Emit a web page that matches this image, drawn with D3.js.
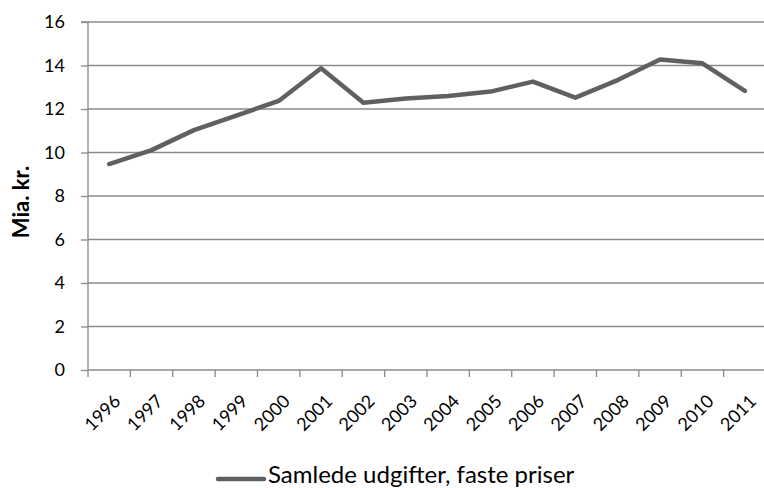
<!DOCTYPE html>
<html><head><meta charset="utf-8">
<script src="https://cdn.jsdelivr.net/npm/d3@7/dist/d3.min.js"></script>
<style>body{margin:0;background:#fff}svg{display:block}text{font-family:Lato,"Open Sans",sans-serif;fill:#000}</style>
</head><body><svg id="c" width="764" height="488"></svg>
<script>
const years = ["1996","1997","1998","1999","2000","2001","2002","2003","2004","2005","2006","2007","2008","2009","2010","2011"];
const values = [9.47,10.11,11.03,11.7,12.37,13.87,12.29,12.48,12.6,12.8,13.26,12.52,13.33,14.28,14.1,12.83];
const yTicks = [0,2,4,6,8,10,12,14,16];
const seriesName = "Samlede udgifter, faste priser";
const yLabel = "Mia. kr.";

const svg = d3.select("#c");
const L = 88, R = 766, T = 22, B = 370;
const x = d3.scaleBand().domain(years).range([L, R]);
const y = d3.scaleLinear().domain([0,16]).range([B, T]);
const FONT = "Lato, 'Open Sans', sans-serif";

// gridlines
svg.append("g").selectAll("line").data(yTicks.filter(d=>d>0)).join("line")
  .attr("x1", L).attr("x2", R).attr("y1", d=>y(d)).attr("y2", d=>y(d))
  .attr("stroke", "#8a8a8a").attr("stroke-width", 1.3);

// y axis
const ya = svg.append("g").attr("transform", `translate(${L},0)`)
  .call(d3.axisLeft(y).tickValues(yTicks).tickSize(7).tickPadding(16).tickFormat(d3.format("d")));
ya.select(".domain").attr("stroke", "#8a8a8a").attr("stroke-width", 1.3).attr("d", `M-7,${T}H0V${B}`);
ya.selectAll(".tick line").attr("stroke", "#8a8a8a").attr("stroke-width", 1.3);
ya.selectAll(".tick text").attr("font-size", 18).attr("font-family", FONT).attr("fill","#000");

// x axis
const xa = svg.append("g").attr("transform", `translate(0,${B})`)
  .call(d3.axisBottom(x).tickSize(0).tickFormat(""));
xa.select(".domain").attr("stroke", "#8a8a8a").attr("stroke-width", 1.3).attr("d", `M${L},0H${R}`);
const bounds = [...years.map(d=>x(d)), R];
xa.selectAll(".bt").data(bounds).join("line").attr("class","bt")
  .attr("x1", d=>d).attr("x2", d=>d).attr("y1", 0).attr("y2", 7)
  .attr("stroke", "#8a8a8a").attr("stroke-width", 1.3);
svg.append("g").selectAll("text").data(years).join("text")
  .attr("transform", d=>`translate(${x(d)+x.bandwidth()/2+8},${B+28}) rotate(-45)`)
  .attr("text-anchor","end").attr("dy","0.35em").attr("font-size", 18).text(d=>d);

// line
const line = d3.line().x((d,i)=>x(years[i])+x.bandwidth()/2).y(d=>y(d));
svg.append("path").datum(values).attr("d", line).attr("fill","none")
  .attr("stroke","#606060").attr("stroke-width",4.5).attr("stroke-linejoin","round").attr("stroke-linecap","round");

// y label
svg.append("text").attr("transform", `translate(21,202) rotate(-90)`)
  .attr("text-anchor","middle").attr("dy","0.35em").attr("font-size",22).attr("font-weight","bold").text(yLabel);

// legend
svg.append("line").attr("x1",218).attr("x2",264).attr("y1",479).attr("y2",479)
  .attr("stroke","#606060").attr("stroke-width",4.5).attr("stroke-linecap","round");
svg.append("text").attr("x",268).attr("y",483).attr("font-size",24).text(seriesName);
</script></body></html>
